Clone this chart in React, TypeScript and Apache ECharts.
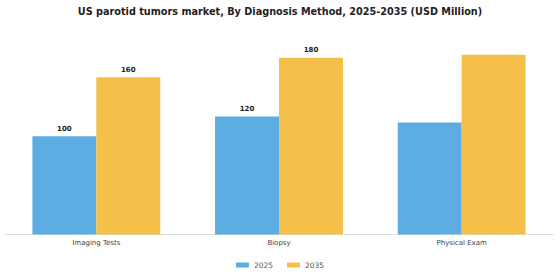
import React, { useEffect, useRef } from "react";
import * as echarts from "echarts";

const categories = ["Imaging Tests", "Biopsy", "Physical Exam"];
const values2025 = [100, 120, 114];
const values2035 = [160, 180, 183];
const labelled2025 = [true, true, false];
const labelled2035 = [true, true, false];

const FONT = "DejaVu Sans";

export default function App() {
  const ref = useRef<HTMLDivElement>(null);

  useEffect(() => {
    if (!ref.current) return;
    const chart = echarts.init(ref.current, null, { renderer: "svg" });
    const mk = (vals: number[], show: boolean[]) =>
      vals.map((v, i) => ({
        value: v,
        label: { show: show[i] },
      }));
    const barLabel = {
      position: "top" as const,
      distance: 4,
      fontFamily: FONT,
      fontSize: 7,
      fontWeight: "bold" as const,
      color: "#222",
    };
    chart.setOption({
      animation: false,
      backgroundColor: "#ffffff",
      title: {
        text: "US parotid tumors market, By Diagnosis Method, 2025-2035 (USD Million)",
        left: "center",
        top: 1,
        textStyle: {
          fontFamily: FONT,
          fontSize: 9.7,
          fontWeight: "bold",
          color: "#222",
        },
      },
      legend: {
        bottom: 6,
        left: "center",
        itemWidth: 13,
        itemHeight: 5,
        itemGap: 14,
        icon: "rect",
        textStyle: { fontFamily: FONT, fontSize: 7.5, color: "#555" },
        data: ["2025", "2035"],
      },
      grid: { left: 5, right: 7, top: 38, bottom: 45.5, containLabel: false },
      xAxis: {
        type: "category",
        data: categories,
        axisLine: { lineStyle: { color: "#dddddd", width: 1 } },
        axisTick: { show: false },
        axisLabel: { fontFamily: FONT, fontSize: 7, color: "#444", margin: 5 },
      },
      yAxis: {
        type: "value",
        min: 0,
        max: 200,
        show: false,
        splitLine: { show: false },
      },
      series: [
        {
          name: "2025",
          type: "bar",
          data: mk(values2025, labelled2025),
          itemStyle: { color: "#5dade2" },
          barGap: "0%",
          barCategoryGap: "30%",
          label: barLabel,
        },
        {
          name: "2035",
          type: "bar",
          data: mk(values2035, labelled2035),
          itemStyle: { color: "#f5c04a" },
          barGap: "0%",
          barCategoryGap: "30%",
          label: barLabel,
        },
      ],
    });
    return () => chart.dispose();
  }, []);

  return (
    <div
      ref={ref}
      style={{ position: "fixed", left: 0, top: 0, width: 560, height: 280 }}
    />
  );
}
